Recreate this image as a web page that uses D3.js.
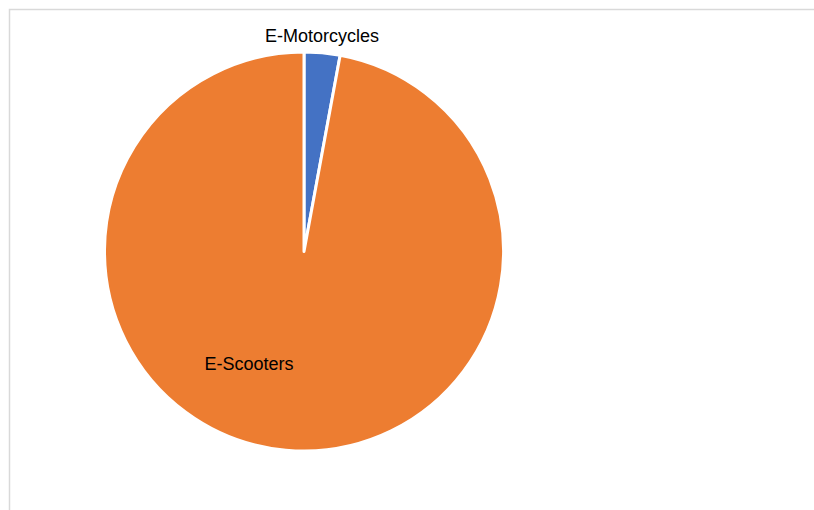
<!DOCTYPE html>
<html><head><meta charset="utf-8">
<script src="https://cdn.jsdelivr.net/npm/d3@7"></script>
<style>body{margin:0;background:#fff;}svg{display:block;}</style>
</head><body>
<svg id="c" width="814" height="510"></svg>
<script>
const categories = ["E-Motorcycles", "E-Scooters"];
const values = [2.9, 97.1];
const colors = ["#4472C4", "#ED7D31"];

const svg = d3.select("#c");
svg.append("rect").attr("x",9.5).attr("y",9.5).attr("width",830).attr("height",520)
  .attr("fill","#fff").attr("stroke","#d9d9d9").attr("stroke-width",1.5);

const cx = 304, cy = 251.5, r = 199.5;
const data = categories.map((c,i)=>({cat:c, v:values[i], color:colors[i]}));
const pie = d3.pie().value(d=>d.v).sort(null);
const arc = d3.arc().innerRadius(0).outerRadius(r);
const g = svg.append("g").attr("transform",`translate(${cx},${cy})`);
const arcs = pie(data);
g.selectAll("path").data(arcs).join("path")
  .attr("d",arc).attr("fill",d=>d.data.color)
  .attr("stroke","#fff").attr("stroke-width",3).attr("stroke-linejoin","round");

const labelPos = [[322,42],[249,370]];
svg.selectAll("text.lbl").data(arcs).join("text").attr("class","lbl")
  .attr("x",(d,i)=>labelPos[i][0]).attr("y",(d,i)=>labelPos[i][1])
  .attr("text-anchor","middle")
  .style("font-family","'Liberation Sans', Arial, sans-serif").style("font-size","18px")
  .attr("fill","#000")
  .text(d=>d.data.cat);
</script>
</body></html>
